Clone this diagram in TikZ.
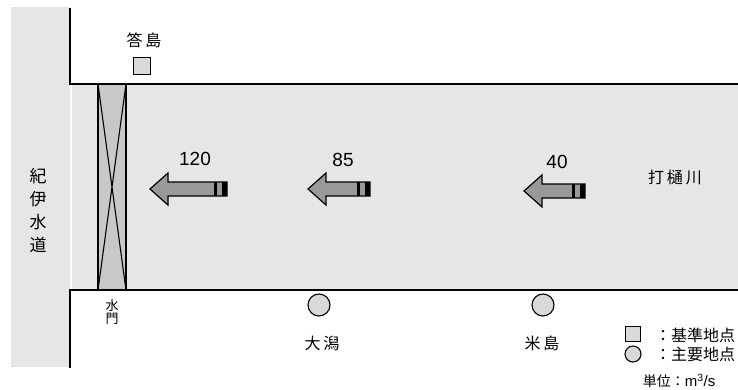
\documentclass[tikz,border=0pt]{standalone}
\usepackage{fontspec}
\setmainfont{Liberation Sans}
\newfontfamily\jp[LetterSpace=18]{Noto Sans CJK JP}
\newfontfamily\jpn{Noto Sans CJK JP}
\definecolor{water}{HTML}{E6E6E6}
\definecolor{gatec}{HTML}{C8C8C8}
\definecolor{arrowc}{HTML}{999999}
\definecolor{markc}{HTML}{D9D9D9}
\tikzset{
  bank/.style={line width=1.8pt,line cap=rect},
  lbl/.style={inner sep=0pt,font=\jp\fontsize{16}{18}\selectfont},
  leg/.style={inner sep=0pt,font=\jpn\fontsize{16}{18}\selectfont},
  num/.style={inner sep=0pt,font=\fontsize{19}{21}\selectfont},
  flowarrow/.style={fill=arrowc,draw=black,line width=1.2pt,line join=miter},
  stripe/.style={fill=black},
  refmark/.style={draw=black,line width=1.1pt,fill=markc},
}
\newcommand{\flowarr}[3]{% tip x, end x, centre y
  \draw[flowarrow] (#1,#3) -- (#1+18,#3-16) -- (#1+18,#3-7) -- (#2,#3-7) -- (#2,#3+7) -- (#1+18,#3+7) -- (#1+18,#3+16) -- cycle;
  \fill[stripe] (#2-13,#3-7) rectangle (#2-10,#3+7);
  \fill[stripe] (#2-5,#3-7) rectangle (#2,#3+7);
}
\begin{document}
\begin{tikzpicture}[x=1pt,y=-1pt]
\useasboundingbox (0,0) rectangle (738,389);
\fill[white] (0,0) rectangle (738,389);
% Kii channel band
\fill[water] (11,7) rectangle (70,367);
% river
\fill[water] (72,84) rectangle (738,290);
% banks
\draw[bank] (70,9) -- (70,84) -- (738,84);
\draw[bank] (70,367) -- (70,290) -- (738,290);
% gate
\draw[fill=gatec,line width=1.3pt] (98,84) rectangle (126,290);
\draw[line width=1.1pt] (98,84) -- (126,290) (126,84) -- (98,290);
% labels
\node[lbl,align=center,font=\jpn\fontsize{17}{23}\selectfont] (kii) at (38,210) {紀\\伊\\水\\道};
\node[lbl] (kotae) at (144,40) {答島};
\node[refmark,minimum size=17pt,inner sep=0pt] (kotaesq) at (142,66) {};
\node[lbl,align=center,font=\jpn\fontsize{13}{13}\selectfont] (suimon) at (112,312) {水\\門};
\node[lbl] (uchitoi) at (675,177) {打樋川};
% flow arrows
\flowarr{150}{227}{189}
\flowarr{308}{370}{189}
\flowarr{524}{585}{191}
\node[num] (q120) at (195,159) {120};
\node[num] (q85) at (343,160) {85};
\node[num] (q40) at (557,162) {40};
% main points
\node[refmark,circle,minimum size=22pt,inner sep=0pt] (ogata) at (319,305) {};
\node[lbl] (ogatat) at (322,343) {大潟};
\node[refmark,circle,minimum size=22pt,inner sep=0pt] (yone) at (543,305) {};
\node[lbl] (yonet) at (542,343) {米島};
% legend
\node[refmark,minimum size=15pt,inner sep=0pt] (legsq) at (633,334) {};
\node[leg,anchor=west] (legsqt) at (655,335) {：基準地点};
\node[refmark,circle,minimum size=16pt,inner sep=0pt] (legci) at (633,354) {};
\node[leg,anchor=west] (legcit) at (655,354) {：主要地点};
\node[inner sep=0pt,font=\fontsize{15}{17}\selectfont] (unit) at (679,381) {{\jpn\fontsize{14}{17}\selectfont 単位：}m\textsuperscript{3}/s};
\end{tikzpicture}
\end{document}
